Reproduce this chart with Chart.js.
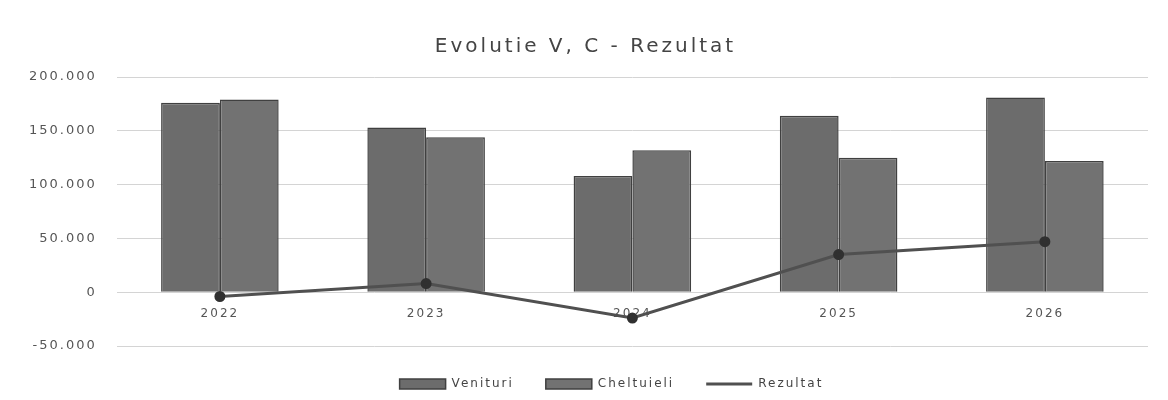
<!DOCTYPE html>
<html>
  <head>
    <title>Evolutie V, C - Rezultat</title>
    <script src="https://cdn.jsdelivr.net/npm/chart.js@4.4.0/dist/chart.umd.min.js"></script>
    <style>
      body { margin: 0; background: #fff; }
      #wrap { width: 1168px; height: 400px; }
    </style>
  </head>
  <body>
    <div id="wrap"><canvas id="myChart"></canvas></div>
    <script>
      const years = ['2022', '2023', '2024', '2025', '2026'];
      const venituri = [176000, 153000, 108000, 164000, 181000];
      const cheltuieli = [179000, 144000, 132000, 125000, 122000];
      const rezultat = [-4000, 8000, -24000, 35000, 47000];
      const legendOrder = ['Venituri', 'Cheltuieli', 'Rezultat'];

      // thousands with a dot, like the original
      const fmt = v => (v < 0 ? '-' : '') + Math.abs(v).toString().replace(/\B(?=(\d{3})+(?!\d))/g, '.');

      // wide letter spacing, a bit wider on the title
      const spacing = {
        id: 'spacing',
        beforeDraw(chart) {
          chart.ctx.letterSpacing = '2px';
          const tb = chart.titleBlock;
          if (tb && !tb._wide) {
            const orig = tb.draw.bind(tb);
            tb.draw = function () {
              const c = chart.ctx;
              c.save();
              c.letterSpacing = '3px';
              orig();
              c.restore();
            };
            tb._wide = true;
          }
        }
      };

      const ctx = document.getElementById('myChart').getContext('2d');
      const myChart = new Chart(ctx, {
        type: 'bar',
        data: {
          labels: years,
          datasets: [
            {
              label: 'Rezultat',
              type: 'line',
              data: rezultat,
              borderColor: '#505050',
              backgroundColor: '#303030',
              borderWidth: 3,
              pointRadius: 4,
              pointBackgroundColor: '#303030',
              pointBorderColor: '#303030',
              order: 0
            },
            {
              label: 'Venituri',
              data: venituri,
              backgroundColor: '#6c6c6c',
              borderColor: '#404040',
              borderWidth: 1.5,
              order: 1
            },
            {
              label: 'Cheltuieli',
              data: cheltuieli,
              backgroundColor: '#727272',
              borderColor: '#404040',
              borderWidth: 1.5,
              order: 1
            }
          ]
        },
        options: {
          responsive: true,
          maintainAspectRatio: false,
          animation: false,
          categoryPercentage: 0.57,
          barPercentage: 1.0,
          layout: { padding: { left: 23, right: 20, top: 18, bottom: 0 } },
          plugins: {
            title: {
              display: true,
              text: 'Evolutie V, C - Rezultat',
              color: '#444',
              font: { family: 'DejaVu Sans', size: 20, weight: 'normal' },
              padding: { top: 17, bottom: 18 }
            },
            legend: {
              position: 'bottom',
              labels: {
                color: '#444',
                font: { family: 'DejaVu Sans', size: 12 },
                usePointStyle: true,
                pointStyleWidth: 46,
                boxHeight: 10,
                padding: 32,
                generateLabels(chart) {
                  const items = Chart.defaults.plugins.legend.labels.generateLabels(chart);
                  items.forEach(it => {
                    const ds = chart.data.datasets[it.datasetIndex];
                    if (ds.type === 'line') {
                      it.pointStyle = 'line';
                      it.strokeStyle = '#505050';
                      it.lineWidth = 3;
                    } else {
                      it.pointStyle = 'rect';
                    }
                  });
                  return items;
                },
                sort: (a, b) => legendOrder.indexOf(a.text) - legendOrder.indexOf(b.text)
              }
            },
            tooltip: { enabled: false }
          },
          scales: {
            x: {
              position: { y: 0 },
              grid: { display: false },
              border: { display: false },
              ticks: { color: '#555', font: { family: 'DejaVu Sans', size: 12 }, padding: 6 }
            },
            y: {
              min: -50000,
              max: 200000,
              ticks: {
                stepSize: 50000,
                color: '#555',
                font: { family: 'DejaVu Sans', size: 13 },
                padding: 20,
                callback: v => fmt(v)
              },
              grid: { color: '#d4d4d4', drawTicks: false },
              border: { display: false }
            }
          }
        },
        plugins: [spacing]
      });
    </script>
  </body>
</html>
